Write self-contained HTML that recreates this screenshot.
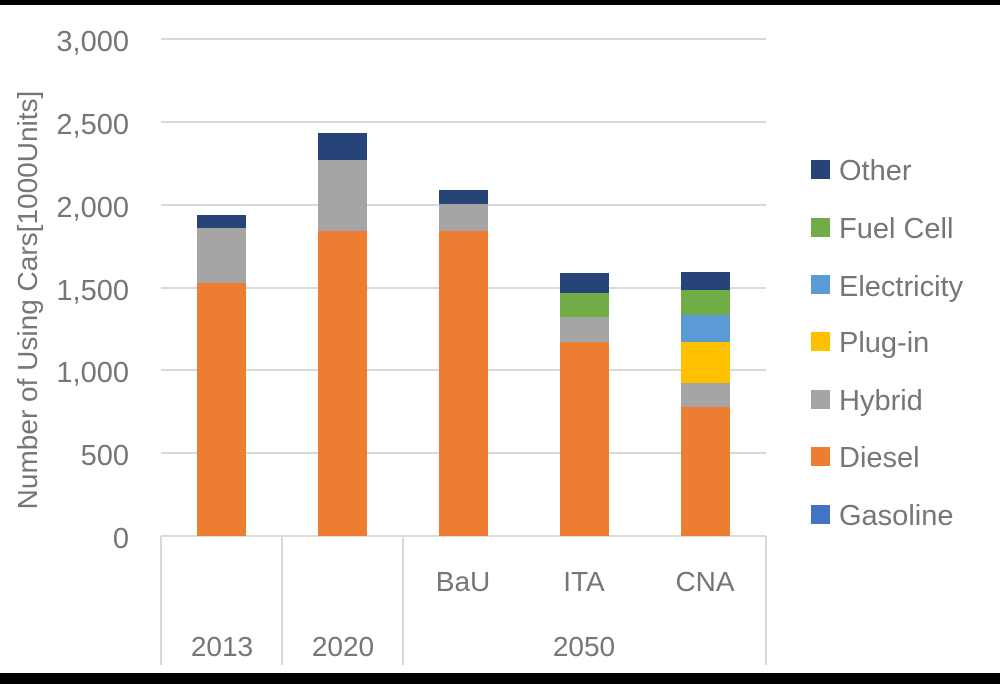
<!DOCTYPE html>
<html><head><style>html,body{margin:0;padding:0;background:#fff}svg{display:block}</style></head><body>
<svg width="1000" height="684" viewBox="0 0 1000 684" xmlns="http://www.w3.org/2000/svg" font-family="Liberation Sans, sans-serif" fill="#767676">
<rect x="0" y="0" width="1000" height="5" fill="#000"/>
<rect x="0" y="673" width="1000" height="11" fill="#000"/>
<g stroke="#d9d9d9" stroke-width="2">
<line x1="161" y1="39" x2="766" y2="39"/>
<line x1="161" y1="122" x2="766" y2="122"/>
<line x1="161" y1="205" x2="766" y2="205"/>
<line x1="161" y1="288" x2="766" y2="288"/>
<line x1="161" y1="370" x2="766" y2="370"/>
<line x1="161" y1="453" x2="766" y2="453"/>
<line x1="161" y1="536" x2="766" y2="536"/>
<line x1="161" y1="536" x2="161" y2="665"/>
<line x1="282" y1="536" x2="282" y2="665"/>
<line x1="403" y1="536" x2="403" y2="665"/>
<line x1="766" y1="536" x2="766" y2="665"/>
</g>
<g font-size="29" text-anchor="end">
<text x="129" y="51">3,000</text><text x="129" y="134">2,500</text><text x="129" y="217">2,000</text>
<text x="129" y="300">1,500</text><text x="129" y="382">1,000</text><text x="129" y="465">500</text><text x="129" y="548">0</text>
</g>
<text transform="translate(37,300) rotate(-90)" font-size="28" text-anchor="middle">Number of Using Cars[1000Units]</text>
<g>
<rect x="197" y="283" width="49" height="253" fill="#ED7D31"/><rect x="197" y="228" width="49" height="55" fill="#A5A5A5"/><rect x="197" y="215" width="49" height="13" fill="#264478"/>
<rect x="318" y="231" width="49" height="305" fill="#ED7D31"/><rect x="318" y="160" width="49" height="71" fill="#A5A5A5"/><rect x="318" y="133" width="49" height="27" fill="#264478"/>
<rect x="439" y="231" width="49" height="305" fill="#ED7D31"/><rect x="439" y="204" width="49" height="27" fill="#A5A5A5"/><rect x="439" y="190" width="49" height="14" fill="#264478"/>
<rect x="560" y="342" width="49" height="194" fill="#ED7D31"/><rect x="560" y="317" width="49" height="25" fill="#A5A5A5"/><rect x="560" y="293" width="49" height="24" fill="#70AD47"/><rect x="560" y="273" width="49" height="20" fill="#264478"/>
<rect x="681" y="407" width="49" height="129" fill="#ED7D31"/><rect x="681" y="383" width="49" height="24" fill="#A5A5A5"/><rect x="681" y="342" width="49" height="41" fill="#FFC000"/><rect x="681" y="315" width="49" height="27" fill="#5B9BD5"/><rect x="681" y="290" width="49" height="25" fill="#70AD47"/><rect x="681" y="272" width="49" height="18" fill="#264478"/>
</g>
<g font-size="28" text-anchor="middle">
<text x="463" y="591">BaU</text><text x="584" y="591">ITA</text><text x="705" y="591">CNA</text>
<text x="222" y="656">2013</text><text x="343" y="656">2020</text><text x="584" y="656">2050</text>
</g>
<g font-size="29">
<rect x="811" y="160" width="19" height="19" fill="#264478"/><text x="839" y="180">Other</text>
<rect x="811" y="218" width="19" height="19" fill="#70AD47"/><text x="839" y="238">Fuel Cell</text>
<rect x="811" y="275" width="19" height="19" fill="#5B9BD5"/><text x="839" y="296">Electricity</text>
<rect x="811" y="332" width="19" height="19" fill="#FFC000"/><text x="839" y="352">Plug-in</text>
<rect x="811" y="390" width="19" height="19" fill="#A5A5A5"/><text x="839" y="410">Hybrid</text>
<rect x="811" y="447" width="19" height="19" fill="#ED7D31"/><text x="839" y="467">Diesel</text>
<rect x="811" y="505" width="19" height="19" fill="#4472C4"/><text x="839" y="525">Gasoline</text>
</g>
</svg>
</body></html>
